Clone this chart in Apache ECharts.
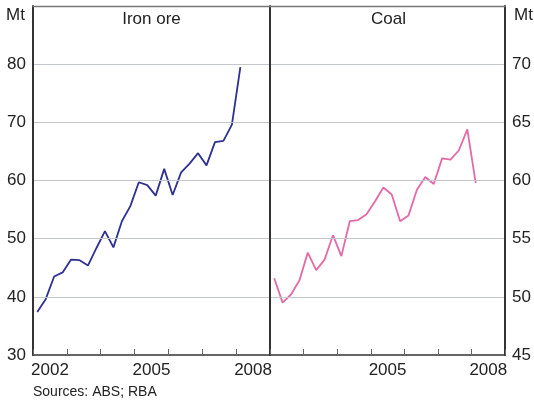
<!DOCTYPE html>
<html><head><meta charset="utf-8">
<script src="https://cdn.jsdelivr.net/npm/echarts@6/dist/echarts.min.js"></script>
<style>html,body{margin:0;padding:0;background:#fff}#c{width:534px;height:402px}</style>
</head><body><div id="c"></div>
<script>
var years = ['2002','2003','2004','2005','2006','2007','2008'];
var yearLabelsLeft = ['2002','2005','2008'];
var yearLabelsRight = ['2005','2008'];
var quarters = [];
years.forEach(function(y){ ['Q1','Q2','Q3','Q4'].forEach(function(q){ quarters.push(y+q); }); });
var ironOre = [37.4,39.6,43.5,44.2,46.4,46.3,45.4,48.4,51.3,48.5,53.0,55.6,59.7,59.2,57.4,62.0,57.5,61.4,62.9,64.7,62.6,66.6,66.8,69.6,79.5];
var coal = [51.6,49.5,50.2,51.4,53.8,52.3,53.2,55.3,53.5,56.5,56.6,57.1,58.2,59.4,58.8,56.5,57.0,59.2,60.3,59.7,61.9,61.8,62.6,64.4,59.8];
var leftTicks = [30,90,10];
var rightTicks = [45,75,5];

var FONT = 'Liberation Sans, Arial, sans-serif';
var TXT = '#222';
var grid = [
  {left:33, top:6, width:237, height:349},
  {left:270, top:6, width:237, height:349}
];
function yearAxis(gi, shown){
  return {type:'category', gridIndex:gi, data:years, boundaryGap:true, position:'bottom', z:10,
    axisLine:{show:true, onZero:false, lineStyle:{color:'#333', width:1.6}},
    axisTick:{show:true, inside:true, length:6, interval:0, lineStyle:{color:'#666', width:1}},
    axisLabel:{interval:0, margin:7, fontSize:17, color:TXT, fontFamily:FONT,
      formatter:function(v){ return shown.indexOf(v)>=0 ? v : ''; }},
    splitLine:{show:false}};
}
function topAxis(gi){
  return {type:'category', gridIndex:gi, data:years, position:'top', z:10,
    axisLine:{show:true, onZero:false, lineStyle:{color:'#777', width:1.4}},
    axisTick:{show:false}, axisLabel:{show:false}, splitLine:{show:false}};
}
function qAxis(gi){
  return {type:'category', gridIndex:gi, data:quarters, boundaryGap:true, position:'bottom',
    axisLine:{show:false}, axisTick:{show:false}, axisLabel:{show:false}, splitLine:{show:false}};
}
function yAx(gi, t, pos){
  return {type:'value', gridIndex:gi, min:t[0], max:t[1], interval:t[2], position:pos, z:10,
    axisLine:{show:true, onZero:false, lineStyle:{color:'#333', width:2}}, axisTick:{show:false},
    axisLabel:{show:true, margin:7, fontSize:17, color:TXT, fontFamily:FONT,
      formatter:function(v){ return v===t[1] ? '' : String(v); }},
    splitLine:{show:true, showMinLine:false, showMaxLine:false, lineStyle:{color:'#c3c7cc', width:1.2}}};
}
function dividerAxis(gi, t, pos){
  return {type:'value', gridIndex:gi, min:t[0], max:t[1], interval:t[2], position:pos, z:10,
    axisLine:{show:true, onZero:false, lineStyle:{color:'#333', width:2}}, axisTick:{show:false},
    axisLabel:{show:false}, splitLine:{show:false}};
}
var option = {
  animation:false,
  grid:grid,
  xAxis:[yearAxis(0, yearLabelsLeft), yearAxis(1, yearLabelsRight), topAxis(0), topAxis(1), qAxis(0), qAxis(1)],
  yAxis:[yAx(0, leftTicks, 'left'), yAx(1, rightTicks, 'right'), dividerAxis(0, leftTicks, 'right')],
  series:[
    {type:'line', xAxisIndex:4, yAxisIndex:0, data:ironOre, showSymbol:false, symbol:'none',
      lineStyle:{color:'#2E3192', width:1.8}, z:5},
    {type:'line', xAxisIndex:5, yAxisIndex:1, data:coal, showSymbol:false, symbol:'none',
      lineStyle:{color:'#E36AA7', width:1.8}, z:5}
  ],
  graphic:[
    {type:'text', left:6, top:7, style:{text:'Mt', fontSize:17, fill:TXT, fontFamily:FONT}},
    {type:'text', left:514, top:7, style:{text:'Mt', fontSize:17, fill:TXT, fontFamily:FONT}},
    {type:'text', x:151.5, y:11, style:{text:'Iron ore', fontSize:17, fill:TXT, fontFamily:FONT, align:'center'}},
    {type:'text', x:388.5, y:11, style:{text:'Coal', fontSize:17, fill:TXT, fontFamily:FONT, align:'center'}},
    {type:'text', left:33, top:385, style:{text:'Sources: ABS; RBA', fontSize:14, fill:TXT, fontFamily:FONT}}
  ]
};
echarts.init(document.getElementById('c'), null, {renderer:'canvas'}).setOption(option);
</script></body></html>
